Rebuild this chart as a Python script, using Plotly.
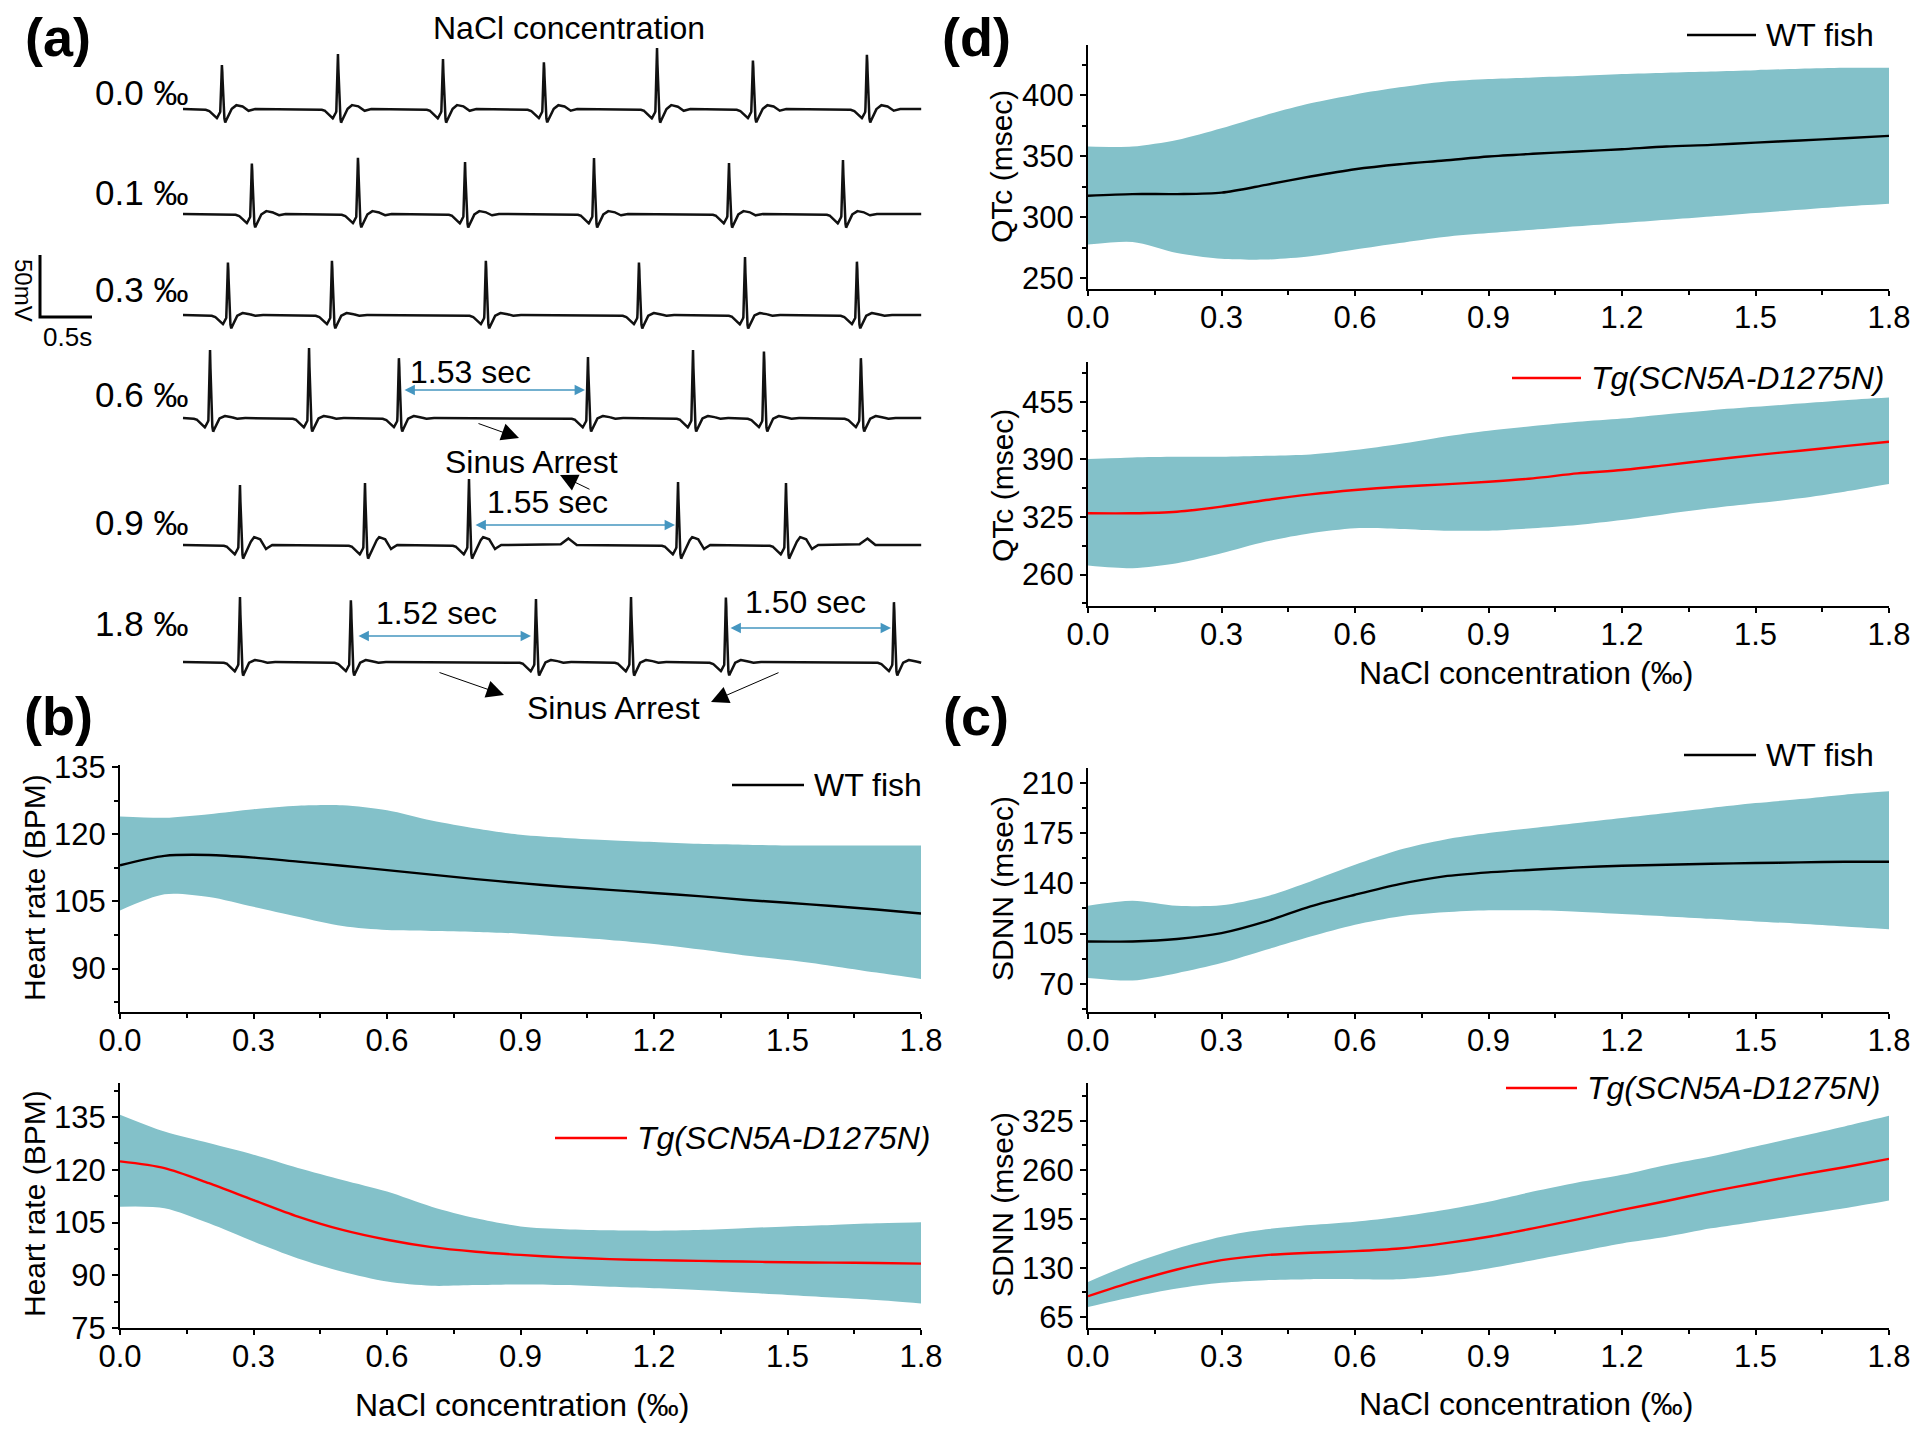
import numpy as np
import plotly.graph_objects as go

W, H = 1920, 1433
OFF = 8                      # browser body margin
FW, FH = W - OFF, H - OFF    # figure size so the page fits the window
FONT = "Arial, 'Liberation Sans', Helvetica, sans-serif"
BAND = "#83c1c9"
BLUE = "#4596c0"

# ---------------- data: panels (b), (c), (d) ----------------
conc = [0.0, 0.1, 0.2, 0.3, 0.4, 0.5, 0.6, 0.7, 0.8, 0.9, 1.0, 1.1, 1.2, 1.3, 1.4, 1.5, 1.6, 1.7, 1.8]
x_tick_vals = [0.0, 0.3, 0.6, 0.9, 1.2, 1.5, 1.8]
x_tick_text = ["0.0", "0.3", "0.6", "0.9", "1.2", "1.5", "1.8"]
x_minor_vals = [0.15, 0.45, 0.75, 1.05, 1.35, 1.65]

hr_wt_mean = [113.1, 115.2, 115.4, 114.8, 113.9, 113.0, 112.0, 111.0, 110.0, 109.1, 108.3, 107.6, 106.9, 106.2, 105.4, 104.7, 104.0, 103.2, 102.3]
hr_wt_upper = [124.0, 123.7, 124.5, 125.6, 126.4, 126.5, 125.4, 123.1, 121.3, 119.9, 119.2, 118.7, 118.3, 117.9, 117.7, 117.5, 117.5, 117.5, 117.5]
hr_wt_lower = [103.0, 106.6, 106.0, 103.8, 101.6, 99.5, 98.6, 98.4, 98.2, 97.8, 97.1, 96.4, 95.5, 94.3, 93.0, 91.9, 90.6, 89.1, 87.7]

hr_tg_mean = [122.4, 120.5, 116.2, 111.4, 106.7, 102.9, 100.1, 98.0, 96.7, 95.8, 95.1, 94.6, 94.3, 94.1, 93.9, 93.7, 93.6, 93.5, 93.3]
hr_tg_upper = [135.7, 130.9, 127.6, 124.3, 120.5, 117.1, 113.8, 109.5, 106.2, 103.9, 103.1, 102.8, 102.7, 102.9, 103.4, 103.9, 104.3, 104.8, 105.1]
hr_tg_lower = [109.5, 109.1, 104.8, 99.6, 94.8, 91.0, 88.2, 87.0, 87.2, 87.4, 87.2, 86.7, 86.3, 85.8, 85.1, 84.4, 83.7, 83.0, 82.0]

qtc_wt_mean = [317.4, 318.8, 318.8, 320.0, 326.4, 333.2, 339.2, 343.3, 346.3, 349.6, 351.8, 353.7, 355.6, 357.8, 359.1, 361.0, 362.7, 364.6, 366.5]
qtc_wt_upper = [357.8, 357.8, 363.2, 372.8, 383.7, 393.2, 400.5, 406.3, 410.9, 413.1, 414.4, 415.5, 417.2, 418.3, 419.3, 420.4, 421.5, 422.3, 422.3]
qtc_wt_lower = [277.4, 279.6, 270.6, 265.7, 265.1, 267.8, 273.3, 278.7, 283.7, 286.9, 289.6, 292.4, 295.1, 297.8, 300.5, 303.3, 306.0, 308.7, 310.9]

qtc_tg_mean = [329.2, 329.2, 331.0, 336.7, 344.2, 350.6, 355.5, 359.2, 361.8, 364.8, 368.6, 374.2, 378.0, 383.6, 389.3, 394.9, 399.8, 405.0, 409.9]
qtc_tg_upper = [390.4, 392.3, 393.0, 393.0, 394.1, 395.6, 400.5, 407.3, 415.6, 422.3, 427.6, 432.5, 436.2, 441.1, 445.6, 449.4, 453.1, 456.9, 459.9]
qtc_tg_lower = [270.2, 267.2, 272.8, 284.0, 297.2, 306.6, 312.3, 311.5, 309.6, 309.6, 312.3, 316.0, 321.6, 328.4, 334.8, 340.4, 346.1, 353.6, 362.2]

sdnn_wt_mean = [99.5, 99.5, 101.2, 105.3, 113.5, 124.0, 132.1, 139.5, 144.9, 147.7, 149.5, 151.2, 152.3, 153.0, 153.7, 154.2, 154.7, 155.1, 155.1]
sdnn_wt_upper = [124.4, 127.9, 124.4, 124.7, 130.9, 141.4, 153.0, 163.5, 170.5, 175.1, 178.6, 182.1, 185.6, 189.1, 192.6, 196.0, 198.8, 201.9, 204.2]
sdnn_wt_lower = [74.0, 72.3, 77.4, 84.4, 93.7, 103.0, 111.2, 117.0, 119.8, 121.2, 121.2, 120.2, 118.6, 117.0, 115.3, 113.5, 111.9, 110.0, 108.1]

sdnn_tg_mean = [92.5, 111.5, 127.9, 140.3, 147.0, 150.1, 152.3, 155.8, 162.5, 171.3, 182.4, 194.4, 206.8, 218.7, 231.1, 242.2, 253.3, 263.4, 274.5]
sdnn_tg_upper = [111.5, 135.9, 155.8, 171.3, 181.1, 186.8, 191.3, 197.9, 206.8, 217.8, 231.1, 243.1, 253.3, 266.5, 277.6, 290.9, 304.2, 317.5, 331.6]
sdnn_tg_lower = [78.3, 91.6, 102.7, 110.2, 113.7, 115.1, 115.1, 115.1, 120.4, 129.3, 140.3, 151.4, 162.5, 171.3, 182.4, 191.3, 200.1, 209.0, 219.2]

# ---------------- data: panel (a) ECG traces ----------------
ecg_labels = ["0.0 ‰", "0.1 ‰", "0.3 ‰", "0.6 ‰", "0.9 ‰", "1.8 ‰"]
# R-peak times (s) and R amplitudes (mV) per row
beats_00 = [0.375, 1.490, 2.500, 3.471, 4.558, 5.481, 6.577]
amps_00 = [37.9, 44.4, 40.3, 40.3, 49.2, 41.9, 46.8]
beats_01 = [0.663, 1.683, 2.712, 3.952, 5.250, 6.346]
amps_01 = [43.5, 48.4, 41.9, 45.2, 41.1, 43.5]
beats_03 = [0.433, 1.433, 2.913, 4.385, 5.404, 6.481]
amps_03 = [45.2, 46.8, 46.8, 45.2, 46.8, 46.0]
beats_06 = [0.260, 1.212, 2.077, 3.894, 4.904, 5.587, 6.519]
amps_06 = [54.8, 56.5, 51.6, 49.2, 54.8, 57.3, 51.6]
beats_09 = [0.548, 1.750, 2.750, 4.760, 5.798]
amps_09 = [48.4, 50.0, 53.2, 50.8, 50.0]
beats_18 = [0.548, 1.615, 3.394, 4.308, 5.221, 6.837]
amps_18 = [52.4, 53.2, 50.8, 52.4, 55.6, 51.6]
t_wave_mv = [3.2, 2.4, 1.6, 1.6, 6.5, 1.6]
# isolated P waves (no QRS) in the 0.9 row
p_only_09 = [3.702, 6.577]
p_only_amp = 5.6
# beat template (s relative to R peak, mV)
tmpl_t = [-0.20, -0.13, -0.09, -0.05, -0.03, -0.016, 0.0, 0.016, 0.03, 0.055, 0.08, 0.13, 0.19, 0.25, 0.30]
tmpl_base = [0.0, -1.0, -4.5, -7.5, -5.0, -2.0, 0.0, -4.0, -11.0, -6.0, -1.0, 0.0, 0.0, 0.0, 0.0]
tmpl_r = [0, 0, 0, 0, 0, 0, 1, 0, 0, 0, 0, 0, 0, 0, 0]
tmpl_tw = [0, 0, 0, 0, 0, 0, 0, 0, 0, 0, 0, 1.0, 0.8, -0.5, 0]
p_t = [-0.08, -0.03, 0.0, 0.03, 0.08]
p_v = [0.0, 0.6, 1.0, 0.6, 0.0]
rec_start, rec_end = 0.0, 7.1          # s
scale_bar_s, scale_bar_mv = 0.5, 50.0  # scale bar meaning

ecg_beats = [beats_00, beats_01, beats_03, beats_06, beats_09, beats_18]
ecg_amps = [amps_00, amps_01, amps_03, amps_06, amps_09, amps_18]
ecg_ponly = [[], [], [], [], p_only_09, []]


def px(x):
    return (x - OFF) / FW


def py(y):
    return 1 - (y - OFF) / FH


def ecg_signal(t, beats, amps, tw, ponly):
    sig = np.zeros_like(t)
    for tb, a in zip(beats, amps):
        vals = np.array(tmpl_base) + a * np.array(tmpl_r) + tw * np.array(tmpl_tw)
        sig += np.interp(t - tb, tmpl_t, vals, left=0, right=0)
    for tp in ponly:
        sig += np.interp(t - tp, p_t, np.array(p_v) * p_only_amp, left=0, right=0)
    return sig


fig = go.Figure()
layout = dict(
    width=FW, height=FH, autosize=False,
    margin=dict(l=0, r=0, t=0, b=0, pad=0),
    paper_bgcolor="white", plot_bgcolor="rgba(0,0,0,0)",
    showlegend=False, font=dict(family=FONT, color="black"),
)

axis_common = dict(
    showline=True, linecolor="black", linewidth=2, ticks="outside",
    tickwidth=2, tickcolor="black", showgrid=False, zeroline=False, automargin=False,
    tickfont=dict(family=FONT, size=31, color="black"),
)

panels = [
    # mean, lower, upper, line color, x px domain, y px domain, y range, dtick
    (hr_wt_mean, hr_wt_lower, hr_wt_upper, "black", (120, 921), (765, 1012), [80.3, 135.5], 15),
    (hr_tg_mean, hr_tg_lower, hr_tg_upper, "#ff0000", (120, 921), (1083, 1328), [75, 144.7], 15),
    (qtc_wt_mean, qtc_wt_lower, qtc_wt_upper, "black", (1088, 1889), (45, 289), [241, 441], 50),
    (qtc_tg_mean, qtc_tg_lower, qtc_tg_upper, "#ff0000", (1088, 1889), (362, 606), [224.5, 500], 65),
    (sdnn_wt_mean, sdnn_wt_lower, sdnn_wt_upper, "black", (1088, 1889), (768, 1012), [50.3, 220.5], 35),
    (sdnn_tg_mean, sdnn_tg_lower, sdnn_tg_upper, "#ff0000", (1088, 1889), (1083, 1328), [50.4, 375], 65),
]

for i, (mean, lo, hi, col, xd, yd, yr, dt) in enumerate(panels, start=1):
    xa, ya = f"x{i}", f"y{i}"
    fig.add_trace(go.Scatter(x=conc, y=lo, xaxis=xa, yaxis=ya, mode="lines",
                             line=dict(width=0, shape="spline", smoothing=0.8), hoverinfo="skip"))
    fig.add_trace(go.Scatter(x=conc, y=hi, xaxis=xa, yaxis=ya, mode="lines", fill="tonexty",
                             fillcolor=BAND, line=dict(width=0, shape="spline", smoothing=0.8)))
    fig.add_trace(go.Scatter(x=conc, y=mean, xaxis=xa, yaxis=ya, mode="lines",
                             line=dict(color=col, width=2.4, shape="spline", smoothing=0.8)))
    key = "" if i == 1 else str(i)
    layout["xaxis" + key] = dict(axis_common, domain=[px(xd[0]), px(xd[1])], anchor=ya, range=[0, 1.8],
                                 ticklen=5, ticklabelstandoff=-5,
                                 tickmode="array", tickvals=x_tick_vals, ticktext=x_tick_text,
                                 minor=dict(tickmode="array", tickvals=x_minor_vals,
                                            ticks="outside", ticklen=4, tickwidth=1.5, tickcolor="black"))
    layout["yaxis" + key] = dict(axis_common, domain=[py(yd[1]), py(yd[0])], anchor=xa, range=yr,
                                 ticklen=6, ticklabelstandoff=0, tick0=0, dtick=dt,
                                 minor=dict(tick0=0, dtick=dt / 2, ticks="outside", ticklen=4,
                                            tickwidth=1.5, tickcolor="black"))

# ---------------- panel (a) ----------------
row_baseline_px = [109, 214, 315, 418, 545, 662]
PX_PER_S, PX_PER_MV = 104.0, 1.24
trace_x0_px = 183
layout["xaxis7"] = dict(domain=[px(OFF), px(940)],
                        range=[(OFF - trace_x0_px) / PX_PER_S, (940 - trace_x0_px) / PX_PER_S],
                        visible=False, anchor="y7", automargin=False)
t = np.arange(rec_start, rec_end, 0.002)
for k in range(6):
    yb = row_baseline_px[k]
    layout[f"yaxis{7 + k}"] = dict(domain=[py(yb + 25), py(yb - 80)], range=[-25 / PX_PER_MV, 80 / PX_PER_MV],
                                   visible=False, anchor="x7", automargin=False)
    sig = ecg_signal(t, ecg_beats[k], ecg_amps[k], t_wave_mv[k], ecg_ponly[k])
    fig.add_trace(go.Scatter(x=t, y=sig, xaxis="x7", yaxis=f"y{7 + k}", mode="lines",
                             line=dict(color="#111111", width=2.5)))

# scale bar axis (0 mV at pixel row 317)
layout["yaxis13"] = dict(domain=[py(320), py(250)], range=[-3 / PX_PER_MV, 67 / PX_PER_MV],
                         visible=False, anchor="x7", automargin=False)
sb_x0 = (40 - trace_x0_px) / PX_PER_S
fig.add_trace(go.Scatter(x=[sb_x0, sb_x0, sb_x0 + scale_bar_s], y=[scale_bar_mv, 0, 0],
                         xaxis="x7", yaxis="y13", mode="lines", line=dict(color="black", width=3)))


def ann(text, x, y, size=32, xanchor="center", yanchor="middle", **kw):
    d = dict(text=text, x=px(x), y=py(y), xref="paper", yref="paper", showarrow=False,
             xanchor=xanchor, yanchor=yanchor, font=dict(family=FONT, size=size, color="black"))
    d.update(kw)
    return d


def arrow(x0, y0, x1, y1, color, width, size, head=2, both=False):
    return dict(text="", x=px(x1), y=py(y1), xref="paper", yref="paper", ax=x0 - x1, ay=y0 - y1,
                axref="pixel", ayref="pixel", showarrow=True, arrowhead=head, startarrowhead=head,
                arrowsize=size, startarrowsize=size, arrowwidth=width, arrowcolor=color,
                arrowside="end+start" if both else "end", standoff=0, startstandoff=0)


annotations = []
# panel letters
for txt, x, y in [("(a)", 58, 37), ("(b)", 58, 716), ("(d)", 976, 37), ("(c)", 976, 716)]:
    annotations.append(ann(f"<b>{txt}</b>", x, y, size=54))
annotations.append(ann("NaCl concentration", 569, 28, size=32))
row_label_y = [91, 192, 289, 394, 521, 622]
for lab, y in zip(ecg_labels, row_label_y):
    annotations.append(ann(lab, 190, y + 1, size=35, xanchor="right"))
annotations.append(ann("50mV", 23, 290, size=24, textangle=90))
annotations.append(ann("0.5s", 67, 337, size=26))
# interval arrows and labels
annotations.append(ann("1.53 sec", 470, 372, size=32))
annotations.append(arrow(403, 390, 585, 390, BLUE, 1.6, 1.3, both=True))
annotations.append(ann("1.55 sec", 547, 502, size=32))
annotations.append(arrow(474, 525, 675, 525, BLUE, 1.6, 1.3, both=True))
annotations.append(ann("1.52 sec", 436, 613, size=32))
annotations.append(arrow(357, 636, 531, 636, BLUE, 1.6, 1.3, both=True))
annotations.append(ann("1.50 sec", 805, 602, size=32))
annotations.append(arrow(729, 628, 891, 628, BLUE, 1.6, 1.3, both=True))
annotations.append(ann("Sinus Arrest", 531, 462, size=32))
annotations.append(ann("Sinus Arrest", 613, 708, size=32))
annotations.append(arrow(477, 423, 519, 438, "black", 1.0, 3.5))
annotations.append(arrow(591, 490, 560, 475, "black", 1.0, 3.5))
annotations.append(arrow(438, 672, 504, 695, "black", 1.0, 3.5))
annotations.append(arrow(780, 672, 711, 702, "black", 1.0, 3.5))

# axis titles
xt = "NaCl concentration (‰)"
annotations += [ann(xt, 522, 1405, size=32), ann(xt, 1526, 673, size=32), ann(xt, 1526, 1404, size=32)]
for txt, x, y in [("Heart rate (BPM)", 34, 888), ("Heart rate (BPM)", 34, 1204),
                  ("QTc (msec)", 1002, 167), ("QTc (msec)", 1002, 486),
                  ("SDNN (msec)", 1002, 889), ("SDNN (msec)", 1002, 1205)]:
    annotations.append(ann(txt, x, y, size=30, textangle=-90))

# legend keys
shapes = []
legend_keys = [
    ("WT fish", "black", 732, 804, 785),
    ("<i>Tg(SCN5A-D1275N)</i>", "#ff0000", 555, 627, 1138),
    ("WT fish", "black", 1687, 1756, 35),
    ("<i>Tg(SCN5A-D1275N)</i>", "#ff0000", 1512, 1581, 378),
    ("WT fish", "black", 1684, 1756, 755),
    ("<i>Tg(SCN5A-D1275N)</i>", "#ff0000", 1506, 1577, 1088),
]
for txt, col, x0, x1, y in legend_keys:
    shapes.append(dict(type="line", xref="paper", yref="paper", x0=px(x0), x1=px(x1), y0=py(y), y1=py(y),
                       line=dict(color=col, width=2.4)))
    annotations.append(ann(txt, x1 + 8, y, size=32, xanchor="left"))

layout["annotations"] = annotations
layout["shapes"] = shapes
fig.update_layout(**layout)
fig.write_html("out.html")
